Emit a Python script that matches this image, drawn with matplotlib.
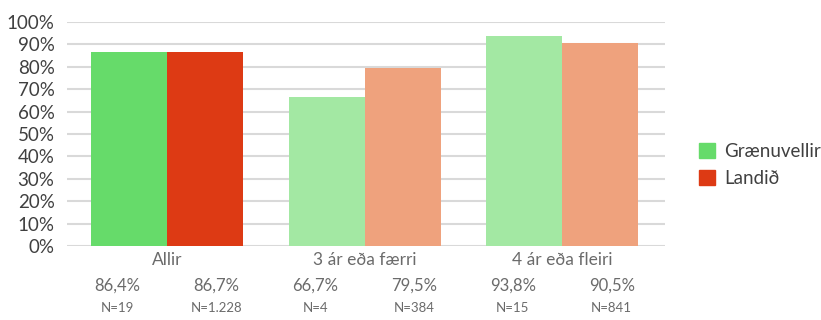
import numpy as np
import matplotlib.pyplot as plt
from matplotlib.patches import Patch

plt.rcParams['font.family'] = ['Lato', 'DejaVu Sans']

categories = ['Allir', '3 ár eða færri', '4 ár eða fleiri']
graenuvellir = [86.4, 66.7, 93.8]
landid = [86.7, 79.5, 90.5]
n_graen = ['N=19', 'N=4', 'N=15']
n_land = ['N=1.228', 'N=384', 'N=841']

green_cols = ['#66db6a', '#a3e8a3', '#a3e8a3']
red_cols = ['#dd3a14', '#efa27d', '#efa27d']

fig = plt.figure(figsize=(8.21, 3.2), dpi=100)
ax = fig.add_axes([67 / 821, 1 - 246 / 320, (665 - 67) / 821, (246 - 22) / 320])

x = np.arange(len(categories))
w = 0.385
ax.bar(x - w / 2, graenuvellir, width=w, color=green_cols, zorder=3)
ax.bar(x + w / 2, landid, width=w, color=red_cols, zorder=3)

ax.set_xlim(-0.506, 2.52)
ax.set_ylim(0, 100)
ax.set_yticks(np.arange(0, 101, 10))
ax.set_yticklabels([f'{v}%' for v in range(0, 101, 10)], fontsize=13.5, color='#404040')
ax.yaxis.grid(True, color='#d9d9d9', linewidth=1.5, zorder=0)
ax.set_xticks(x)
ax.set_xticklabels(categories, fontsize=12.5, color='#6b6b6b')
ax.tick_params(axis='both', length=0)
ax.tick_params(axis='y', pad=9)
ax.tick_params(axis='x', pad=4)
for s in ax.spines.values():
    s.set_visible(False)

for i in range(len(categories)):
    ax.text(i - 0.25, -17.5, f'{graenuvellir[i]:.1f}%'.replace('.', ','), ha='center', va='center',
            fontsize=12, color='#6b6b6b', clip_on=False)
    ax.text(i + 0.25, -17.5, f'{landid[i]:.1f}%'.replace('.', ','), ha='center', va='center',
            fontsize=12, color='#6b6b6b', clip_on=False)
    ax.text(i - 0.25, -27.5, n_graen[i], ha='center', va='center',
            fontsize=9.5, color='#6b6b6b', clip_on=False)
    ax.text(i + 0.25, -27.5, n_land[i], ha='center', va='center',
            fontsize=9.5, color='#6b6b6b', clip_on=False)

handles = [Patch(color=green_cols[0]), Patch(color=red_cols[0])]
fig.legend(handles, ['Grænuvellir', 'Landið'], loc='center left',
           bbox_to_anchor=(682 / 821, 1 - 165 / 320), frameon=False,
           fontsize=13.5, handlelength=0.85, handleheight=0.85, handletextpad=0.5,
           labelspacing=0.55, labelcolor='#404040')

fig.savefig('out.png', dpi=100)
